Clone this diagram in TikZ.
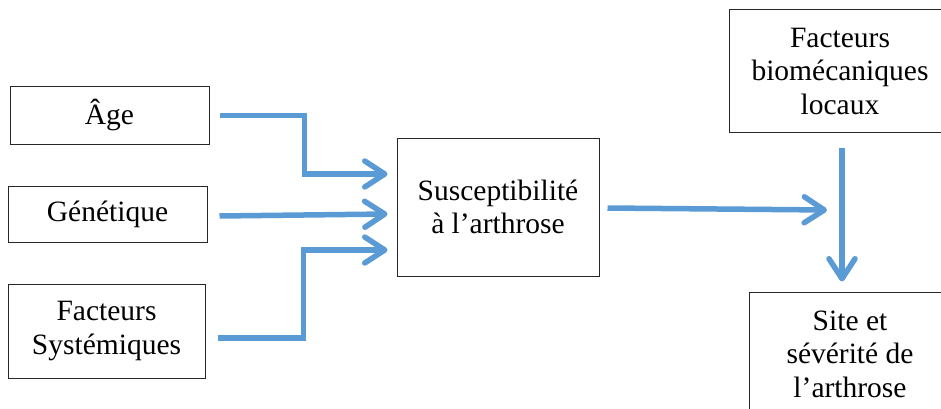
\documentclass[tikz,border=0pt]{standalone}
\usepackage{fontspec}
\setmainfont{Liberation Serif}
\usetikzlibrary{arrows.meta}
\definecolor{arrblue}{RGB}{91,155,213}
\begin{document}
\begin{tikzpicture}[x=1pt,y=-1pt,
  box/.style={draw=black!85, line width=1pt, inner sep=0pt, align=center,
    font=\fontsize{29.5}{33.5}\selectfont},
  arr/.style={draw=arrblue, line width=5.5pt, line join=miter,
    -{Straight Barb[length=20pt,width=26pt,line cap=round,line join=round]}}]
\useasboundingbox (0,0) rectangle (941,409);
\clip (0,0) rectangle (941,409);
\fill[white] (0,0) rectangle (941,409);
% boxes
\node[box, minimum width=199pt, minimum height=57pt] (age) at (109.5,115.5) {Âge};
\node[box, minimum width=199pt, minimum height=56pt] (gen) at (107.5,214) {Génétique};
\node[box, minimum width=197pt, minimum height=94pt] (sys) at (106.5,331) {Facteurs\\Systémiques};
\node[box, minimum width=202pt, minimum height=138pt] (sus) at (498,207) {Susceptibilité\\à l’arthrose};
\node[box, minimum width=222pt, minimum height=122pt] (bio) at (840,71) {Facteurs\\biomécaniques\\locaux};
\node[box, minimum width=202pt, minimum height=124pt] (site) at (850,354) {Site et\\sévérité de\\l’arthrose};
\coordinate (j) at (827,210);
% connectors
\draw[arr] ([xshift=10pt]age.east) -- ++(85,0) |- ([xshift=-9pt,yshift=33pt]sus.west);
\draw[arr] ([xshift=12pt,yshift=-2pt]gen.east) -- ([xshift=-9pt,yshift=-7pt]sus.west);
\draw[arr] ([xshift=12pt,yshift=-7pt]sys.east) -- ++(86,0) |- ([xshift=-9pt,yshift=-43pt]sus.west);
\draw[arr] ([xshift=8pt,yshift=-1pt]sus.east) -- (j);
\draw[arr] ([xshift=2pt,yshift=-15pt]bio.south) -- ([xshift=-8pt,yshift=10pt]site.north);
\end{tikzpicture}
\end{document}
